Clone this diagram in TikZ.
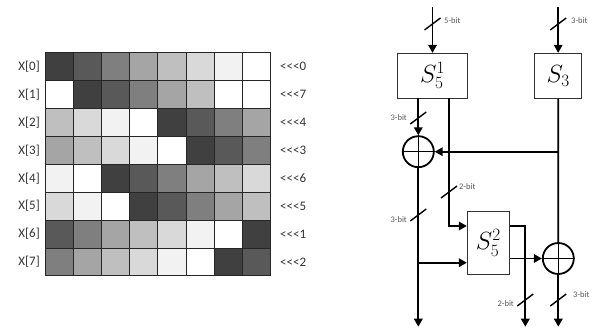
\documentclass[tikz,border=0pt]{standalone}
\usepackage{fontspec}
\setmainfont{Carlito}
\usetikzlibrary{arrows.meta}
\definecolor{g0}{HTML}{404040}
\definecolor{g1}{HTML}{595959}
\definecolor{g2}{HTML}{7F7F7F}
\definecolor{g3}{HTML}{A5A5A5}
\definecolor{g4}{HTML}{BFBFBF}
\definecolor{g5}{HTML}{D9D9D9}
\definecolor{g6}{HTML}{F2F2F2}
\definecolor{g7}{HTML}{FFFFFF}
\definecolor{lbl}{HTML}{595959}
\tikzset{
  cellbox/.style={draw=black!85, line width=0.9pt},
  rowlbl/.style={font=\fontsize{13}{15}\selectfont, text=black!80, inner sep=0pt},
  sbox/.style={draw=black!80, line width=0.9pt, fill=white, inner sep=0pt},
  xorc/.style={draw=black, line width=1.8pt, circle, minimum size=31pt, inner sep=0pt},
  wire/.style={line width=1.8pt, black},
  arr/.style={wire, -{Triangle[length=8pt,width=8.5pt]}},
  slash/.style={line width=1.4pt, black},
  bitlbl/.style={font=\fontsize{8.5}{10}\selectfont, text=lbl, inner sep=1pt},
  smath/.style={font=\fontsize{24}{28}\selectfont}
}
\begin{document}
\begin{tikzpicture}[x=1pt,y=-1pt]
\useasboundingbox (0,0) rectangle (611,331);
% ---- grid ----
\def\cw{28.2}\def\ch{27.9}\def\gx{45}\def\gy{52.7}
\foreach \row/\shades/\rot in {
  0/{0,1,2,3,4,5,6,7}/0,
  1/{7,0,1,2,3,4,7,7}/7,
  2/{4,5,6,7,0,1,2,3}/4,
  3/{3,4,5,6,7,0,1,2}/3,
  4/{6,7,0,1,2,3,4,5}/6,
  5/{5,6,7,0,1,2,3,4}/5,
  6/{1,2,3,4,5,6,7,0}/1,
  7/{2,3,4,5,6,7,0,1}/2}{
  \foreach \s [count=\c from 0] in \shades {
    \filldraw[cellbox, fill=g\s] ({\gx+\c*\cw},{\gy+\row*\ch}) rectangle ++(\cw,\ch);
  }
  \node[rowlbl, anchor=east] (xl\row) at (40,{\gy+(\row+0.5)*\ch}) {X[\row]};
  \node[rowlbl, anchor=west] (rl\row) at (280,{\gy+(\row+0.5)*\ch}) {<{}<{}<\rot};
}
% ---- right diagram ----
\node[sbox, minimum width=70.4pt, minimum height=45pt, smath] (A) at (432.5,75.8) {$S_5^1$};
\node[sbox, minimum width=47.4pt, minimum height=45pt, smath] (B) at (558.2,75.8) {$S_3$};
\node[sbox, minimum width=42pt, minimum height=62.3pt, smath] (C) at (488.3,242.9) {$S_5^2$};
\node[xorc] (X1) at (418.3,151.7) {};
\node[xorc] (X2) at (558.3,258.5) {};
\draw[line width=1.3pt] (X1.north) -- (X1.south) (X1.west) -- (X1.east);
\draw[line width=1.3pt] (X2.north) -- (X2.south) (X2.west) -- (X2.east);

\coordinate (inA) at (432.5,7);
\coordinate (inB) at (558.2,7);
\coordinate (aL) at (418.3,98.3);
\coordinate (aR) at (449,98.3);
\coordinate (aRb) at (449,226);
\coordinate (bJ) at (558.2,151.7);
\coordinate (x1J) at (418.3,262.7);
\coordinate (out1) at (418.3,326.7);
\coordinate (cR) at (525.3,226);
\coordinate (out2) at (525.3,326.7);
\coordinate (out3) at (558.3,326.7);

\draw[arr] (inA) -- (A.north);
\draw[arr] (inB) -- (B.north);
\draw[arr] (aL) -- (X1.north);
\draw[wire] (B.south) -- (X2.north);
\draw[arr] (bJ) -- (X1.east);
\draw[arr] (aR) -- (aRb) -- (C.west |- aRb);
\draw[arr] (X1.south) -- (out1);
\draw[arr] (x1J) -- (C.west |- x1J);
\draw[arr] (C.east |- cR) -- (cR) -- (out2);
\draw[arr] (C.east |- X2.west) -- (X2.west);
\draw[arr] (X2.south) -- (out3);

% slashes and labels
\draw[slash] (424.5,30) -- ++(16,-12) coordinate (s1);
\node[bitlbl, anchor=west] (l1) at (443,21) {5-bit};
\draw[slash] (550.2,30) -- ++(16,-12) coordinate (s2);
\node[bitlbl, anchor=west] (l2) at (570,21) {3-bit};
\draw[slash] (410.3,124) coordinate (s3) -- ++(16,-12);
\node[bitlbl, anchor=east] (l3) at (408,118) {3-bit};
\draw[slash] (441,198) -- ++(16,-12) coordinate (s4);
\node[bitlbl, anchor=west] (l4) at (458,187) {2-bit};
\draw[slash] (410.3,221) coordinate (s5) -- ++(16,-12);
\node[bitlbl, anchor=east] (l5) at (408,220) {3-bit};
\draw[slash] (517.3,306) coordinate (s6) -- ++(16,-12);
\node[bitlbl, anchor=east] (l6) at (515,304) {2-bit};
\draw[slash] (550.3,306) -- ++(16,-12) coordinate (s7);
\node[bitlbl, anchor=west] (l7) at (572,295) {3-bit};
\end{tikzpicture}
\end{document}
